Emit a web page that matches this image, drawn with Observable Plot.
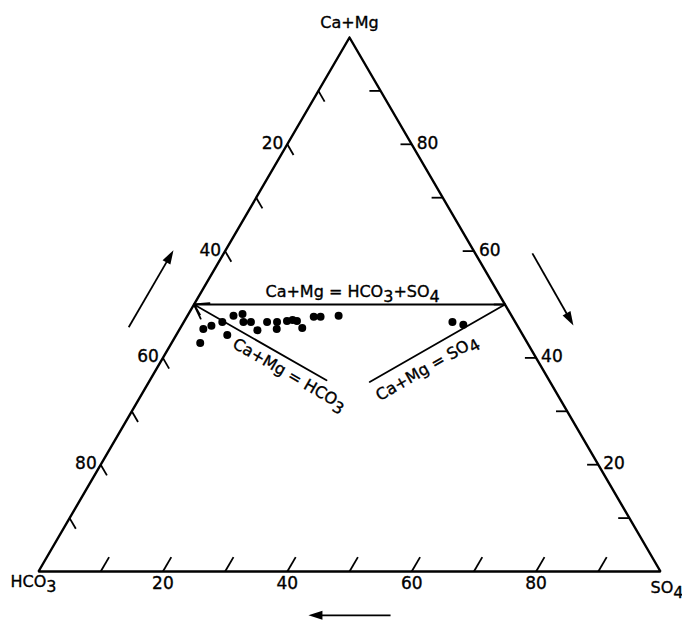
<!DOCTYPE html>
<html>
<head>
<meta charset="utf-8">
<script src="https://cdn.jsdelivr.net/npm/d3@7"></script>
<script src="https://cdn.jsdelivr.net/npm/@observablehq/plot@0.6"></script>
<style>
  html, body { margin: 0; padding: 0; background: #fff; }
  #chart svg { display: block; }
</style>
</head>
<body>
<div id="chart"></div>
<script>
// ---- Sample composition (percent of total) ----
const caMg = [42.8, 45.4, 46.0, 46.7, 44.3, 47.9, 48.2, 46.7, 46.7, 45.2, 46.7, 46.7, 45.4, 46.9, 47.1, 46.9, 45.6, 47.7, 47.7, 47.9, 46.7, 46.2];
const so4  = [ 4.6,  3.8,  4.8,  6.2,  8.2,  7.4,  8.7,  9.6, 10.8, 12.6, 13.4, 15.0, 15.6, 16.5, 17.3, 18.1, 19.6, 20.4, 21.5, 24.3, 43.2, 45.2];
const hco3 = [52.6, 50.8, 49.2, 47.1, 47.5, 44.7, 43.1, 43.7, 42.5, 42.2, 39.9, 38.3, 39.0, 36.6, 35.6, 35.0, 34.8, 31.9, 30.8, 27.8, 10.1,  8.6];

// ---- Vertices and ticks ----
const vertexNames = ["Ca+Mg", "HCO3", "SO4"];
const vertexCaMg  = [100, 0, 0];
const vertexSO4   = [0, 0, 100];
const tickValues  = [10, 20, 30, 40, 50, 60, 70, 80, 90];
const tickLabels  = [20, 40, 60, 80];

// ---- Reference relations (ternary points, Ca+Mg / SO4 percent) ----
const relationNames = ["Ca+Mg = HCO3+SO4", "Ca+Mg = HCO3", "Ca+Mg = SO4"];
const balanceLine = {caMg: [50, 50], so4: [0, 50]};
const hco3Line    = {caMg: [35.8, 50], so4: [28.4, 0]};
const so4Line     = {caMg: [50, 35.5], so4: [50, 35.5]};
const relationLabelCaMg = [52.4, 36.9, 38.1];
const relationLabelSO4  = [24.3, 21.9, 43.4];
const relationLabelAngle = [0, 30, -30];

// ---- Direction arrows (triangle plane coordinates) ----
const arrowX1 = [14.5, 79.4, 56.6];
const arrowY1 = [39.6, 51.6, -7.1];
const arrowX2 = [21.7, 86.0, 43.4];
const arrowY2 = [52.1, 39.9, -7.1];

// ---- Ternary projection ----
const R3 = Math.sqrt(3) / 2;
const tx = d => d.so4 + d.caMg / 2;
const ty = d => d.caMg * R3;

const samples = caMg.map((c, i) => ({caMg: c, so4: so4[i], hco3: hco3[i]}));
const vertices = vertexNames.map((n, i) => ({name: n, caMg: vertexCaMg[i], so4: vertexSO4[i]}));
const outline = [...vertices, vertices[0]];
const pts = o => o.caMg.map((c, i) => ({caMg: c, so4: o.so4[i]}));
const relationLabels = relationNames.map((n, i) => ({name: n, caMg: relationLabelCaMg[i], so4: relationLabelSO4[i], angle: relationLabelAngle[i]}));
const arrows = arrowX1.map((x, i) => ({
  x1: x, y1: arrowY1[i], x2: arrowX2[i], y2: arrowY2[i],
  angle: Math.atan2(arrowX2[i] - x, arrowY2[i] - arrowY1[i]) * 180 / Math.PI
}));

// narrow filled arrow head with its tip at the origin, pointing up
const arrowHead = {
  draw(context) {
    const h = 14, w = 9;
    context.moveTo(0, 0);
    context.lineTo(w / 2, h);
    context.lineTo(-w / 2, h);
    context.closePath();
  }
};

// tick geometry: each tick is a short stub of the grid line of its component
const LB = 2.7, LL = 2.0, LR = 1.8;
const bottomStart = v => ({caMg: 0, so4: v});
const bottomEnd   = v => ({caMg: LB, so4: v});
const leftStart   = v => ({caMg: 100 - v, so4: 0});
const leftEnd     = v => ({caMg: 100 - v - LL, so4: LL});
const rightStart  = v => ({caMg: v, so4: 100 - v});
const rightEnd    = v => ({caMg: v, so4: 100 - v - LR});

const FONT = "DejaVu Sans";
const ink = {fill: "#000", stroke: "#000", strokeWidth: 0.35};

const chart = Plot.plot({
  width: 682,
  height: 621,
  marginTop: 37, marginBottom: 50, marginLeft: 38, marginRight: 22,
  x: {domain: [0, 100], axis: null},
  y: {domain: [0, 100 * R3], axis: null},
  style: {fontFamily: FONT, background: "#fff", color: "#000"},
  marks: [
    // triangle frame
    Plot.line(outline, {x: tx, y: ty, stroke: "#000", strokeWidth: 2.4, strokeLinejoin: "miter"}),
    // ticks
    Plot.link(tickValues, {x1: v => tx(bottomStart(v)), y1: v => ty(bottomStart(v)), x2: v => tx(bottomEnd(v)), y2: v => ty(bottomEnd(v)), stroke: "#000", strokeWidth: 1.8}),
    Plot.link(tickValues, {x1: v => tx(leftStart(v)), y1: v => ty(leftStart(v)), x2: v => tx(leftEnd(v)), y2: v => ty(leftEnd(v)), stroke: "#000", strokeWidth: 1.8}),
    Plot.link(tickValues, {x1: v => tx(rightStart(v)), y1: v => ty(rightStart(v)), x2: v => tx(rightEnd(v)), y2: v => ty(rightEnd(v)), stroke: "#000", strokeWidth: 1.8}),
    // tick labels
    Plot.text(tickLabels, {x: v => tx(bottomStart(v)), y: v => ty(bottomStart(v)), text: d => String(d), lineAnchor: "top", dy: 5, fontSize: 17, ...ink}),
    Plot.text(tickLabels, {x: v => tx(leftStart(v)), y: v => ty(leftStart(v)), text: d => String(d), textAnchor: "end", dx: -4, dy: -1, fontSize: 17, ...ink}),
    Plot.text(tickLabels, {x: v => tx(rightStart(v)), y: v => ty(rightStart(v)), text: d => String(d), textAnchor: "start", dx: 5, dy: -1, fontSize: 17, ...ink}),
    // vertex labels
    Plot.text(vertices.slice(0, 1), {x: tx, y: ty, text: "name", dy: -15, fontSize: 16, ...ink}),
    Plot.text(vertices.slice(1, 2), {x: tx, y: ty, text: "name", textAnchor: "start", lineAnchor: "top", dx: -28, dy: 4, fontSize: 16, ...ink}),
    Plot.text(vertices.slice(2, 3), {x: tx, y: ty, text: "name", textAnchor: "start", lineAnchor: "top", dx: -10, dy: 10, fontSize: 16, ...ink}),
    // relation lines
    Plot.line(pts(balanceLine), {x: tx, y: ty, stroke: "#000", strokeWidth: 1.8}),
    Plot.line(pts(so4Line), {x: tx, y: ty, stroke: "#000", strokeWidth: 1.8}),
    Plot.arrow([pts(hco3Line)], {x1: d => tx(d[0]), y1: d => ty(d[0]), x2: d => tx(d[1]), y2: d => ty(d[1]), stroke: "#000", strokeWidth: 1.8, headLength: 13, headAngle: 70}),
    Plot.text(relationLabels, {x: tx, y: ty, text: "name", rotate: "angle", fontSize: 16, ...ink}),
    // direction arrows: shafts plus filled heads
    Plot.arrow(arrows, {x1: "x1", y1: "y1", x2: "x2", y2: "y2", stroke: "#000", strokeWidth: 1.8, headLength: 0, insetEnd: 8, strokeLinecap: "butt"}),
    Plot.dot(arrows, {x: "x2", y: "y2", symbol: arrowHead, rotate: "angle", fill: "#000", stroke: null}),
    // samples
    Plot.dot(samples, {x: tx, y: ty, r: 4, fill: "#000", stroke: null})
  ]
});

// subscripts for the chemical formulas
d3.select(chart).selectAll("text").each(function () {
  const t = this.textContent;
  if (!/O[34]/.test(t)) return;
  const frags = [];
  for (let i = 0; i < t.length; i++) {
    const c = t[i];
    const isSub = (c === "3" || c === "4") && t[i - 1] === "O";
    if (frags.length && frags[frags.length - 1].sub === isSub) frags[frags.length - 1].s += c;
    else frags.push({sub: isSub, s: c});
  }
  this.textContent = "";
  let shifted = false;
  for (const f of frags) {
    const ts = document.createElementNS("http://www.w3.org/2000/svg", "tspan");
    if (f.sub && !shifted) { ts.setAttribute("dy", "0.3em"); shifted = true; }
    else if (!f.sub && shifted) { ts.setAttribute("dy", "-0.3em"); shifted = false; }
    ts.textContent = f.s;
    this.appendChild(ts);
  }
});

document.getElementById("chart").appendChild(chart);
</script>
</body>
</html>
